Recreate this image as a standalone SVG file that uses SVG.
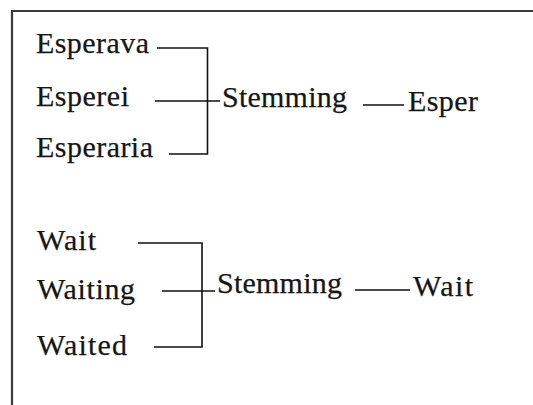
<svg xmlns="http://www.w3.org/2000/svg" width="533" height="405" viewBox="0 0 533 405">
<style>
.t { font-family: "Liberation Serif", "Times New Roman", serif; font-size: 30px; fill: #161616; stroke: #161616; stroke-width: 0.25; }
.conn { fill: none; stroke: #111; stroke-width: 1.6; }
.frame { fill: none; stroke: #3a3a3a; stroke-width: 2.2; }
</style>
<rect width="533" height="405" fill="#ffffff"/>
<path class="frame" d="M12 405 V11 H533"/>
<g id="connectors">
<path class="conn" d="M157 48 H207.5 V154 H169"/>
<path class="conn" d="M155 101 H220"/>
<path class="conn" d="M363 105 H404"/>
<path class="conn" d="M138 243 H202 V347 H154"/>
<path class="conn" d="M162 291 H215"/>
<path class="conn" d="M355 290 H410"/>
</g>
<g class="t">
<g id="esperava"><text x="36" y="53" textLength="113" lengthAdjust="spacing">Esperava</text></g>
<g id="esperei"><text x="36" y="106" textLength="93" lengthAdjust="spacing">Esperei</text></g>
<g id="esperaria"><text x="36" y="157" textLength="117" lengthAdjust="spacing">Esperaria</text></g>
<g id="stemming1"><text x="222" y="107" textLength="125" lengthAdjust="spacing">Stemming</text></g>
<g id="esper"><text x="408" y="111" textLength="70" lengthAdjust="spacing">Esper</text></g>
<g id="wait1"><text x="37" y="250" textLength="59" lengthAdjust="spacing">Wait</text></g>
<g id="waiting"><text x="37" y="299" textLength="98" lengthAdjust="spacing">Waiting</text></g>
<g id="waited"><text x="37" y="355" textLength="90" lengthAdjust="spacing">Waited</text></g>
<g id="stemming2"><text x="217" y="293" textLength="125" lengthAdjust="spacing">Stemming</text></g>
<g id="wait2"><text x="413" y="296" textLength="60" lengthAdjust="spacing">Wait</text></g>
</g>
</svg>
